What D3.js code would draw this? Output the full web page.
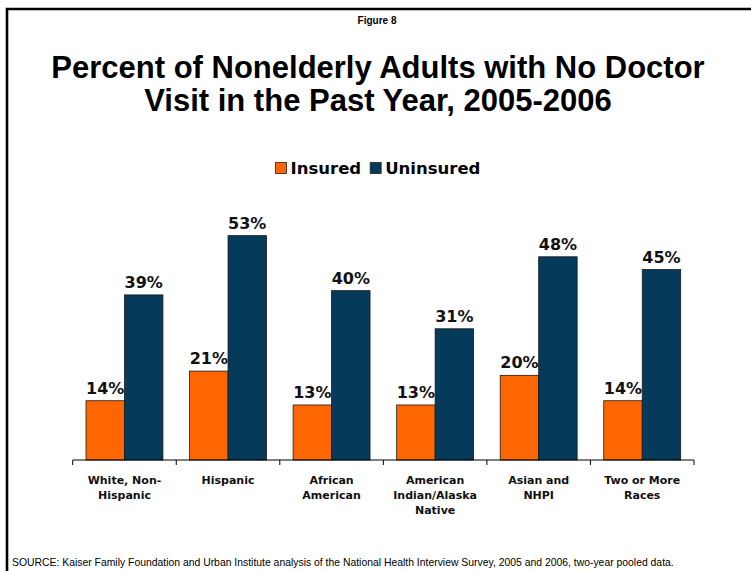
<!DOCTYPE html>
<html>
<head>
<meta charset="utf-8">
<script src="https://cdn.jsdelivr.net/npm/d3@7"></script>
<style>
  body { margin: 0; background: #fff; }
  svg { display: block; }
</style>
</head>
<body>
<div id="chart"></div>
<script>
var categories = [
    ["White, Non-", "Hispanic"],
    ["Hispanic"],
    ["African", "American"],
    ["American", "Indian/Alaska", "Native"],
    ["Asian and", "NHPI"],
    ["Two or More", "Races"]
]
var insured = [14, 21, 13, 13, 20, 14]
var uninsured = [39, 53, 40, 31, 48, 45]
var seriesNames = ["Insured", "Uninsured"]
var seriesColors = ["#ff6600", "#053a5b"]

var width = 751
var height = 571
var baseY = 460

var svg = d3.select("#chart")
    .append("svg")
    .attr("width", width)
    .attr("height", height)

svg.append("rect")
    .attr("width", width)
    .attr("height", height)
    .attr("fill", "#fff")

// frame: top and left edges only
svg.append("path")
    .attr("d", "M7," + height + "V9H" + width)
    .attr("fill", "none")
    .attr("stroke", "#000")
    .attr("stroke-width", 2.6)

svg.append("text")
    .attr("x", 377)
    .attr("y", 24)
    .attr("text-anchor", "middle")
    .attr("font-family", "Liberation Sans, Arial, sans-serif")
    .attr("font-weight", "bold")
    .attr("font-size", 10)
    .text("Figure 8")

var titleLines = ["Percent of Nonelderly Adults with No Doctor", "Visit in the Past Year, 2005-2006"]
svg.append("g").selectAll("text")
    .data(titleLines)
    .enter()
    .append("text")
    .attr("x", 378)
    .attr("y", (d, i) => 78 + i * 33)
    .attr("text-anchor", "middle")
    .attr("font-family", "Liberation Sans, Arial, sans-serif")
    .attr("font-weight", "bold")
    .attr("font-size", 31)
    .attr("fill", "#000")
    .text((d) => d)

// scales
var keys = categories.map((d, i) => i)
var x0 = d3.scaleBand()
    .domain(keys)
    .range([72.7, 694])
    .paddingInner(0.257)
    .paddingOuter(0.1285)

var x1 = d3.scaleBand()
    .domain([0, 1])
    .range([0, x0.bandwidth()])

var y = d3.scaleLinear()
    .domain([0, 60])
    .range([baseY, 206])

// legend
var legend = svg.append("g")
var lx = 0
seriesNames.forEach((name, i) => {
    legend.append("rect")
        .attr("x", lx)
        .attr("y", 162.5)
        .attr("width", 11)
        .attr("height", 11)
        .attr("fill", seriesColors[i])
        .attr("stroke", "#222")
        .attr("stroke-width", 0.8)
    var t = legend.append("text")
        .attr("x", lx + 15)
        .attr("y", 174)
        .attr("font-family", "DejaVu Sans, Verdana, sans-serif")
        .attr("font-weight", "bold")
        .attr("font-size", 16.5)
        .text(name)
    lx += 15 + t.node().getComputedTextLength() + 9
})
var legendW = lx - 9
legend.attr("transform", "translate(" + (378 - legendW / 2) + ",0)")

// bars
var groups = svg.append("g").selectAll("g")
    .data(keys)
    .enter()
    .append("g")
    .attr("transform", (d) => "translate(" + x0(d) + ",0)")

groups.selectAll("rect")
    .data((d) => [insured[d], uninsured[d]])
    .enter()
    .append("rect")
    .attr("x", (d, j) => x1(j))
    .attr("y", (d) => y(d))
    .attr("width", x1.bandwidth())
    .attr("height", (d) => baseY - y(d))
    .attr("fill", (d, j) => seriesColors[j])
    .attr("stroke", "#1a1a1a")
    .attr("stroke-width", 0.8)

groups.selectAll("text")
    .data((d) => [insured[d], uninsured[d]])
    .enter()
    .append("text")
    .attr("x", (d, j) => x1(j) + x1.bandwidth() / 2)
    .attr("y", (d) => y(d) - 7)
    .attr("text-anchor", "middle")
    .attr("font-family", "DejaVu Sans, Verdana, sans-serif")
    .attr("font-weight", "bold")
    .attr("font-size", 16)
    .attr("fill", "#111")
    .text((d) => d + "%")

// axis line with boundary ticks
var step = x0.step()
var start = x0.range()[0]
var axis = svg.append("g")
axis.append("line")
    .attr("x1", start)
    .attr("x2", x0.range()[1])
    .attr("y1", baseY)
    .attr("y2", baseY)
    .attr("stroke", "#000")
    .attr("stroke-width", 1)
axis.selectAll("line.tick")
    .data(d3.range(categories.length + 1))
    .enter()
    .append("line")
    .attr("class", "tick")
    .attr("x1", (d) => start + d * step)
    .attr("x2", (d) => start + d * step)
    .attr("y1", baseY)
    .attr("y2", baseY + 5)
    .attr("stroke", "#000")
    .attr("stroke-width", 1)

// category labels
var labels = svg.append("g").selectAll("text")
    .data(keys)
    .enter()
    .append("text")
    .attr("x", (d) => x0(d) + x0.bandwidth() / 2)
    .attr("y", 484)
    .attr("text-anchor", "middle")
    .attr("font-family", "DejaVu Sans, Verdana, sans-serif")
    .attr("font-weight", "bold")
    .attr("font-size", 11)
    .attr("fill", "#111")

labels.selectAll("tspan")
    .data((d) => categories[d])
    .enter()
    .append("tspan")
    .attr("x", function() { return d3.select(this.parentNode).attr("x") })
    .attr("dy", (d, i) => i === 0 ? 0 : 15)
    .text((d) => d)

svg.append("text")
    .attr("x", 12)
    .attr("y", 566)
    .attr("font-family", "Liberation Sans Narrow, Liberation Sans, Arial, sans-serif")
    .attr("font-size", 10.4)
    .attr("fill", "#000")
    .text("SOURCE: Kaiser Family Foundation and Urban Institute analysis of the National Health Interview Survey, 2005 and 2006, two-year pooled data.")
</script>
</body>
</html>
